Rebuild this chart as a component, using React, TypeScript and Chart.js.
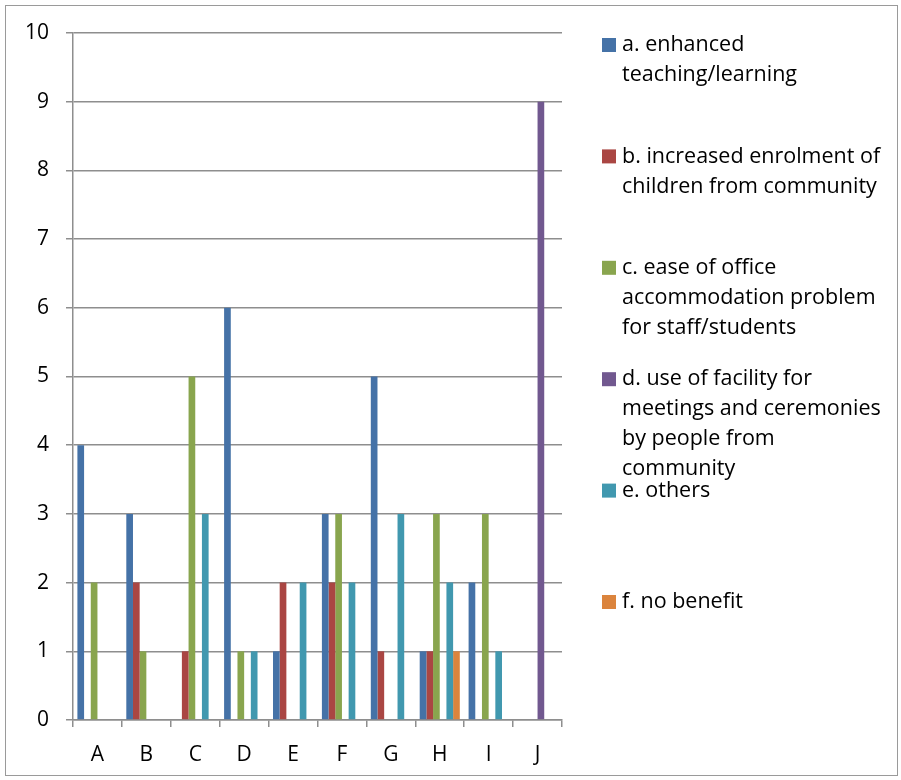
import React, { useEffect, useRef } from "react";
import { Chart, registerables } from "chart.js";

Chart.register(...registerables);

const categories = ["A", "B", "C", "D", "E", "F", "G", "H", "I", "J"];

const enhancedTeaching = [4, 3, 0, 6, 1, 3, 5, 1, 2, 0];
const increasedEnrolment = [0, 2, 1, 0, 2, 2, 1, 1, 0, 0];
const easeOfOffice = [2, 1, 5, 1, 0, 3, 0, 3, 3, 0];
const useOfFacility = [0, 0, 0, 0, 0, 0, 0, 0, 0, 9];
const others = [0, 0, 3, 1, 2, 2, 3, 2, 1, 0];
const noBenefit = [0, 0, 0, 0, 0, 0, 0, 1, 0, 0];

const seriesLabelLines = [
  ["a. enhanced", "teaching/learning"],
  ["b. increased enrolment of", "children from community"],
  ["c. ease of office", "accommodation problem", "for staff/students"],
  ["d. use of facility for", "meetings and ceremonies", "by people from", "community"],
  ["e. others"],
  ["f. no benefit"],
];

const yTicks = [0, 1, 2, 3, 4, 5, 6, 7, 8, 9, 10];

const seriesValues = [enhancedTeaching, increasedEnrolment, easeOfOffice, useOfFacility, others, noBenefit];
const seriesColors = ["#4572A7", "#AA4643", "#89A54E", "#71588F", "#4198AF", "#DB843D"];

const FONT = "'Open Sans', 'Noto Sans', sans-serif";
const GRID = "#8e8e8e";

const sideLegend = {
  id: "sideLegend",
  afterDraw(chart: any) {
    const ctx = chart.ctx;
    ctx.save();
    // outer frame
    ctx.strokeStyle = "#9a9a9a";
    ctx.lineWidth = 1;
    ctx.strokeRect(5.5, 5.5, 892, 770);
    ctx.font = `21.5px ${FONT}`;
    ctx.textBaseline = "middle";
    ctx.textAlign = "left";
    chart.data.datasets.forEach((ds: any, i: number) => {
      const y0 = 45 + i * 111.4;
      ctx.fillStyle = ds.backgroundColor;
      ctx.fillRect(602, y0 - 7, 14, 14);
      ctx.fillStyle = "#000";
      const lines = seriesLabelLines[i];
      lines.forEach((ln: string, j: number) => {
        ctx.fillText(ln, 622, y0 + j * 30);
      });
    });
    ctx.restore();
  },
};

export default function App() {
  const ref = useRef<HTMLCanvasElement>(null);
  useEffect(() => {
    const chart = new Chart(ref.current!, {
      type: "bar",
      data: {
        labels: categories,
        datasets: seriesValues.map((vals, i) => ({
          label: seriesLabelLines[i].join(" "),
          data: vals,
          backgroundColor: seriesColors[i],
          borderWidth: 0,
          categoryPercentage: 0.82,
          barPercentage: 1,
        })),
      },
      options: {
        responsive: false,
        animation: false,
        devicePixelRatio: 1,
        layout: { padding: { top: 33, right: 339, bottom: 0, left: 0 } },
        plugins: { legend: { display: false }, tooltip: { enabled: false } },
        scales: {
          x: {
            offset: true,
            grid: { drawOnChartArea: false, drawTicks: true, tickLength: 7, color: GRID, lineWidth: 1.5, offset: true },
            border: { color: GRID, width: 1.5 },
            ticks: { color: "#000", font: { family: FONT, size: 21 }, padding: 15 },
            afterFit(scale: any) {
              scale.height = 60;
            },
          },
          y: {
            min: 0,
            max: 10,
            afterBuildTicks(scale: any) {
              scale.ticks = yTicks.map((v) => ({ value: v }));
            },
            grid: { color: GRID, lineWidth: 1.5, tickLength: 7 },
            border: { color: GRID, width: 1.5 },
            ticks: { color: "#000", font: { family: FONT, size: 21 }, padding: 17, stepSize: 1 },
            afterFit(scale: any) {
              scale.width = 73;
            },
          },
        },
      },
      plugins: [sideLegend],
    });
    return () => chart.destroy();
  }, []);
  return (
    <div style={{ position: "absolute", left: 0, top: 0, width: 901, height: 780, background: "#fff" }}>
      <canvas ref={ref} width={901} height={780} />
    </div>
  );
}
